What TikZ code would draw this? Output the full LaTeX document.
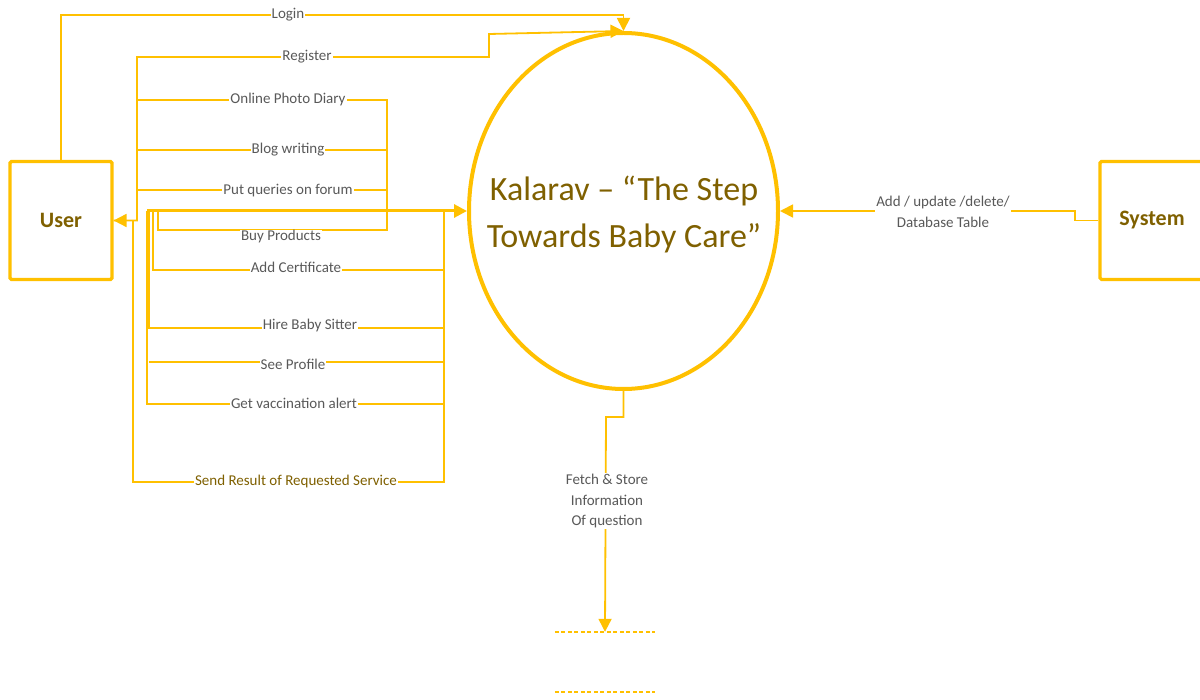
\documentclass[tikz,border=0pt]{standalone}
\usepackage{fontspec}
\setmainfont{Carlito}
\usetikzlibrary{arrows.meta,shapes.geometric}
\definecolor{ln}{HTML}{FFC000}
\definecolor{tg}{HTML}{595959}
\definecolor{dg}{HTML}{7F6000}
\begin{document}
\begin{tikzpicture}[x=1pt,y=-1pt,
 conn/.style={draw=ln,line width=1.8pt},
 tip/.style={-{Triangle[length=13pt,width=13pt]}},
 lbl/.style={fill=white,text=tg,inner sep=1pt,font=\fontsize{15}{20.5}\selectfont},
 ent/.style={draw=ln,line width=3.2pt,rounded corners=1.5pt,minimum width=102pt,minimum height=118pt,inner sep=0pt,text=dg,font=\fontsize{22}{26}\selectfont\bfseries},
]
\useasboundingbox (0,0) rectangle (1200,700);
% entities
\node[ent] (user) at (61,220.5) {User};
\node[ent,minimum width=104pt] (sys) at (1152,220.5) {System};
\node[ellipse,draw=ln,line width=4pt,minimum width=309pt,minimum height=356pt,inner sep=0pt] (main) at (623.5,211) {};
\node[text=dg,align=center,font=\fontsize{34}{47}\selectfont] (title) at (624,214) {Kalarav – “The Step\\Towards Baby Care”};
% data store
\node[minimum width=100pt,minimum height=60pt,inner sep=0pt] (store) at (605,662) {};
\draw[draw=ln,line width=1.8pt,dash pattern=on 4pt off 2.5pt] (store.north west) -- (store.north east) (store.south west) -- (store.south east);
% junction coordinates
\coordinate (jL) at (147,211);
\coordinate (jR) at (444,211);
% connectors
\draw[conn,tip] (user.north) -- (61,15) -- (623.5,15) -- (main.north);
\draw[conn,tip] (user.east) -- (137,220.5) -- (137,57) -- (489,57) -- (489,34) -- (main.north);
\draw[conn,tip] (jR) -- (444,482) -- (133,482) -- (133,220.5) -- (user.east);
\draw[conn] (137,100) -- (387,100) -- (387,230) -- (158,230) -- (158,211);
\draw[conn] (137,150) -- (387,150);
\draw[conn] (137,190) -- (387,190);
\draw[conn] (444,270) -- (153,270) -- (153,211);
\draw[conn] (444,328) -- (149,328) -- (149,211);
\draw[conn] (444,362) -- (149,362);
\draw[conn] (444,404) -- (147,404) -- (jL);
\draw[draw=ln,line width=3pt,tip] (jL) -- (main.west);
\draw[conn,tip] (main.south) -- (623.5,417) -- (606,417) -- (store.north);
\draw[conn,tip] (sys.west) -- (1075,220.5) -- (1075,211) -- (main.east);
% labels
\node[lbl] (lLogin) at (288,15) {Login};
\node[lbl] (lReg) at (307,57) {Register};
\node[lbl] (lOPD) at (288,100) {Online Photo Diary};
\node[lbl] (lBlog) at (288,150) {Blog writing};
\node[lbl] (lQ) at (288,191) {Put queries on forum};
\node[lbl] (lBuy) at (281,237) {Buy Products};
\node[lbl] (lAdd) at (296,267) {Add Certificate};
\node[lbl] (lHire) at (310,326) {Hire Baby Sitter};
\node[lbl] (lSee) at (293,364) {See Profile};
\node[lbl] (lVac) at (294,403) {Get vaccination alert};
\node[lbl,text=dg] (lSend) at (296,482) {Send Result of Requested Service};
\node[lbl,align=center] (lSys) at (943,212) {Add / update /delete/\\Database Table};
\node[lbl,align=center] (lFetch) at (607,501) {Fetch \& Store\\Information\\Of question};
\end{tikzpicture}
\end{document}
